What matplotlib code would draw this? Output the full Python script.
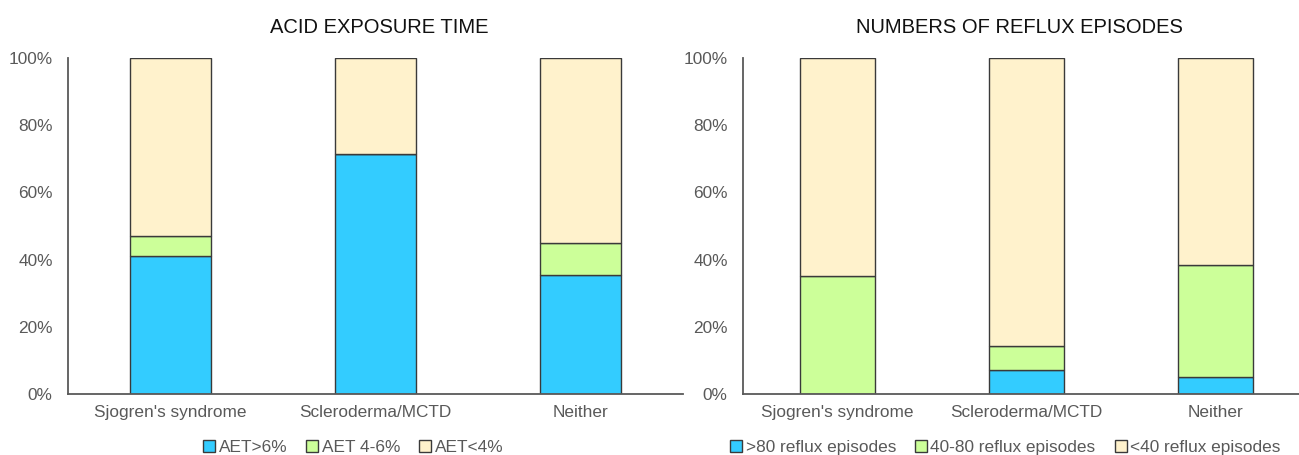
import matplotlib
matplotlib.use("Agg")
import matplotlib.pyplot as plt
from matplotlib.lines import Line2D
import numpy as np

plt.rcParams['font.family'] = ['Liberation Sans', 'DejaVu Sans']

categories = ["Sjogren's syndrome", "Scleroderma/MCTD", "Neither"]

aet_title = "ACID EXPOSURE TIME"
aet_labels = ["AET>6%", "AET 4-6%", "AET<4%"]
aet_high = [41.1, 71.4, 35.4]
aet_mid = [5.9, 0.0, 9.5]
aet_low = [53.0, 28.6, 55.1]

ref_title = "NUMBERS OF REFLUX EPISODES"
ref_labels = [">80 reflux episodes", "40-80 reflux episodes", "<40 reflux episodes"]
ref_high = [0.0, 7.1, 5.1]
ref_mid = [35.1, 7.2, 33.3]
ref_low = [64.9, 85.7, 61.6]

colors = ["#33CCFF", "#CCFF99", "#FFF2CC"]
edge = "#3a3a3a"
gray = "#595959"

W, H = 1299, 455
fig = plt.figure(figsize=(W / 100, H / 100), dpi=100)

def draw(ax, title, series, labels, legend_cx, title_x):
    x = np.arange(len(categories))
    bottom = np.zeros(len(categories))
    for vals, c in zip(series, colors):
        vals = np.array(vals)
        ax.bar(x, vals, width=0.395, bottom=bottom, color=c, edgecolor=edge, linewidth=1.0)
        bottom += vals
    ax.set_xlim(-0.5, len(categories) - 0.5)
    ax.set_ylim(0, 100)
    ax.set_yticks(np.arange(0, 101, 20))
    ax.set_yticklabels([f"{v}%" for v in range(0, 101, 20)])
    ax.set_xticks(x)
    ax.set_xticklabels(categories)
    ax.tick_params(axis='both', length=0, labelsize=12.4, colors=gray, pad=8)
    ax.tick_params(axis='y', pad=11)
    for s in ['top', 'right']:
        ax.spines[s].set_visible(False)
    ax.spines['left'].set_color("#595959")
    ax.spines['bottom'].set_color("#595959")
    ax.spines['left'].set_linewidth(1.3)
    ax.spines['bottom'].set_linewidth(1.3)
    ax.set_title(title, fontsize=14.5, color="#111111", pad=18, x=title_x)
    handles = [Line2D([], [], marker='s', linestyle='none', markersize=8,
                      markerfacecolor=c, markeredgecolor=edge, markeredgewidth=1.0)
               for c in colors]
    fig.legend(handles, labels, loc='center', bbox_to_anchor=(legend_cx / W, 1 - 447 / H),
               ncol=3, frameon=False, fontsize=12.4, labelcolor=gray,
               handletextpad=0.05, columnspacing=0.95, handlelength=1.0)

bottom_px, top_px = 394, 58
ax1 = fig.add_axes([68 / W, 1 - bottom_px / H, (683 - 68) / W, (bottom_px - top_px) / H])
ax2 = fig.add_axes([743 / W, 1 - bottom_px / H, (1310 - 743) / W, (bottom_px - top_px) / H])

draw(ax1, aet_title, [aet_high, aet_mid, aet_low], aet_labels, 352, 0.506)
draw(ax2, ref_title, [ref_high, ref_mid, ref_low], ref_labels, 1004, 0.487)

fig.savefig("out.png", dpi=100)
